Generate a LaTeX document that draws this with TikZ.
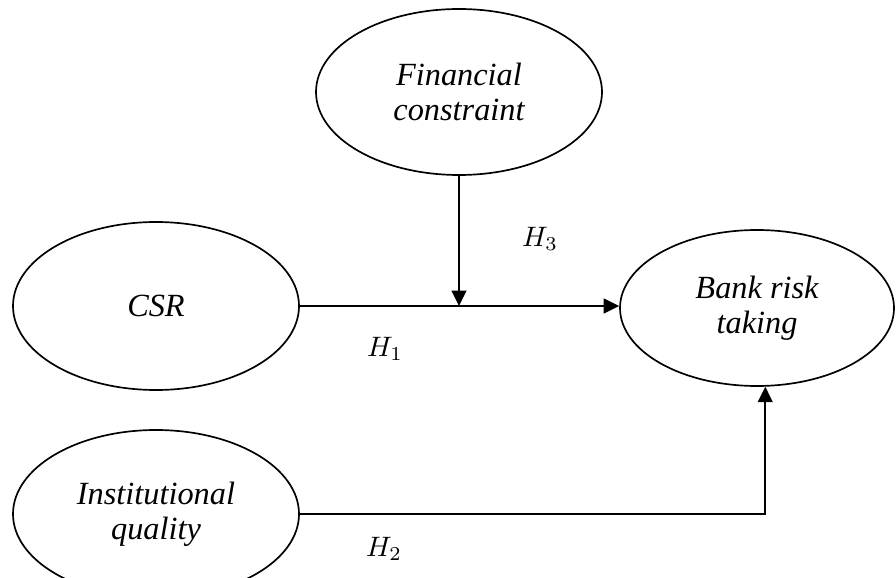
\documentclass[tikz,border=0pt]{standalone}
\usepackage{fontspec}
\setmainfont{Liberation Serif}
\usetikzlibrary{arrows.meta, shapes.geometric}

\tikzset{
    var/.style={draw, ellipse, line width=1.2pt, align=center, inner sep=0pt,
        font=\fontsize{23}{25}\selectfont\itshape},
    link/.style={line width=1.4pt, -{Triangle[length=11pt, width=10.5pt]}},
    hyp/.style={scale=2}
}

\begin{document}
\begin{tikzpicture}
    \useasboundingbox (0,0) rectangle (22.4,14.425);
    \node[var, minimum width=7.15cm, minimum height=4.15cm] (fc) at (11.475,12.125) {Financial\\constraint};
    \node[var, minimum width=7.15cm, minimum height=4.2cm] (csr) at (3.9,6.775) {CSR};
    \node[var, minimum width=6.85cm, minimum height=3.9cm] (bank) at (18.925,6.725) {Bank risk\\taking};
    \node[var, minimum width=7.15cm, minimum height=4.2cm] (inst) at (3.9,1.575) {Institutional\\quality};
    \coordinate (j) at (fc.south |- csr.east);
    \draw[link] (csr.east) -- (j -| bank.west);
    \draw[link] (fc.south) -- (j);
    \draw[link] (inst.east) -| (bank.-84);
    \node[hyp] (h3) at (13.5,8.45) {$H_3$};
    \node[hyp] (h1) at (9.625,5.7) {$H_1$};
    \node[hyp] (h2) at (9.6,0.7) {$H_2$};
\end{tikzpicture}
\end{document}
